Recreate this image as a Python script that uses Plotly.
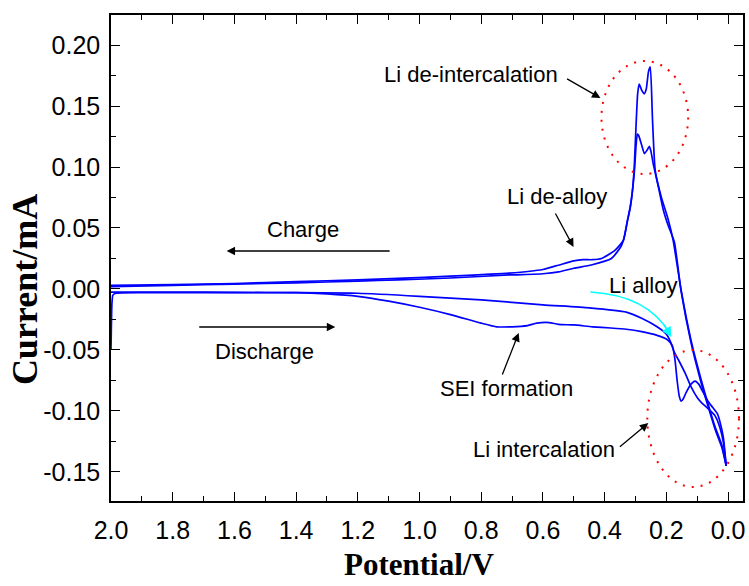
import plotly.graph_objects as go

# ---------------- data ----------------
# Cycle 1 cathodic sweep (discharge, 2.0 V -> 0 V), with SEI shoulder
v_dis1 = [2.0, 1.997, 1.994, 1.985, 1.9, 1.8, 1.6, 1.4, 1.3, 1.2, 1.1, 1.0, 0.9, 0.8,
          0.75, 0.7, 0.65, 0.62, 0.58, 0.55, 0.5, 0.44, 0.38, 0.33, 0.28, 0.23, 0.2,
          0.187, 0.18, 0.172, 0.165, 0.158, 0.152, 0.145, 0.136, 0.12, 0.107, 0.095,
          0.08, 0.065, 0.05, 0.035, 0.025, 0.015, 0.006]
i_dis1 = [-0.05, -0.012, -0.005, -0.0035, -0.003, -0.003, -0.003, -0.003, -0.004, -0.006,
          -0.010, -0.015, -0.021, -0.028, -0.031, -0.031, -0.030, -0.028, -0.0275, -0.029,
          -0.0295, -0.031, -0.032, -0.033, -0.035, -0.038, -0.041, -0.044, -0.047, -0.058,
          -0.075, -0.088, -0.092, -0.090, -0.085, -0.078, -0.0755, -0.078, -0.085, -0.092,
          -0.097, -0.102, -0.110, -0.122, -0.145]

# Cycle 1 anodic sweep (charge, 0 V -> 2.0 V), larger de-intercalation peaks
v_cha1 = [0.006, 0.02, 0.042, 0.065, 0.087, 0.12, 0.152, 0.178, 0.194, 0.216, 0.236,
          0.245, 0.252, 0.258, 0.265, 0.272, 0.28, 0.288, 0.293, 0.298, 0.304, 0.31,
          0.317, 0.326, 0.339, 0.365, 0.388, 0.41, 0.44, 0.47, 0.5, 0.55, 0.6, 0.71,
          0.9, 1.07, 1.2, 1.4, 1.6, 1.8, 2.0]
i_cha1 = [-0.145, -0.128, -0.113, -0.094, -0.0746, -0.042, -0.001, 0.040, 0.057, 0.075,
          0.097, 0.14, 0.182, 0.178, 0.164, 0.160, 0.163, 0.168, 0.160, 0.135, 0.10, 0.08,
          0.067, 0.056, 0.040, 0.032, 0.028, 0.025, 0.024, 0.024, 0.023, 0.0195, 0.016,
          0.013, 0.0105, 0.0087, 0.0075, 0.006, 0.0045, 0.0035, 0.003]

# Cycle 2 cathodic sweep (discharge)
v_dis2 = [2.0, 1.8, 1.6, 1.4, 1.2, 1.0, 0.8, 0.6, 0.45, 0.33, 0.28, 0.23, 0.2, 0.187,
          0.174, 0.161, 0.139, 0.12, 0.1, 0.087, 0.065, 0.042, 0.026, 0.015, 0.006]
i_dis2 = [-0.0025, -0.0025, -0.0028, -0.003, -0.0035, -0.006, -0.009, -0.013, -0.0155,
          -0.019, -0.024, -0.031, -0.037, -0.043, -0.052, -0.058, -0.069, -0.080, -0.089,
          -0.093, -0.098, -0.104, -0.114, -0.126, -0.145]

# Cycle 2 anodic sweep (charge), smaller peaks
v_cha2 = [0.006, 0.02, 0.042, 0.065, 0.087, 0.12, 0.152, 0.174, 0.194, 0.21, 0.226,
          0.242, 0.25, 0.255, 0.262, 0.271, 0.28, 0.29, 0.294, 0.298, 0.304, 0.317,
          0.326, 0.339, 0.349, 0.378, 0.443, 0.5, 0.549, 0.6, 0.71, 0.9, 1.07, 1.2, 1.4,
          1.6, 1.8, 2.0]
i_cha2 = [-0.145, -0.13, -0.115, -0.096, -0.077, -0.044, -0.002, 0.0385, 0.052, 0.065,
          0.084, 0.102, 0.113, 0.117, 0.114, 0.111, 0.118, 0.126, 0.127, 0.118, 0.095,
          0.067, 0.056, 0.040, 0.034, 0.025, 0.0197, 0.017, 0.014, 0.0125, 0.0115, 0.009,
          0.0074, 0.0065, 0.005, 0.004, 0.003, 0.002]

x_ticks = [2.0, 1.8, 1.6, 1.4, 1.2, 1.0, 0.8, 0.6, 0.4, 0.2, 0.0]
x_ticktext = ["2.0", "1.8", "1.6", "1.4", "1.2", "1.0", "0.8", "0.6", "0.4", "0.2", "0.0"]
y_ticks = [0.20, 0.15, 0.10, 0.05, 0.0, -0.05, -0.10, -0.15]
y_ticktext = ["0.20", "0.15", "0.10", "0.05", "0.00", "-0.05", "-0.10", "-0.15"]
x_minor = [1.9, 1.7, 1.5, 1.3, 1.1, 0.9, 0.7, 0.5, 0.3, 0.1]
y_minor = [0.175, 0.125, 0.075, 0.025, -0.025, -0.075, -0.125]

# ---------------- layout geometry ----------------
W, H = 749, 586
ML, MR, MT, MB = 111, 4, 15, 85
X_LEFT, X_RIGHT = 2.0, -0.0485
Y_BOT, Y_TOP = -0.1738, 0.2246


def px2x(px):
    return X_LEFT + (px - ML) / (W - ML - MR) * (X_RIGHT - X_LEFT)


def py2y(py):
    return Y_TOP - (py - MT) / (H - MT - MB) * (Y_TOP - Y_BOT)


BLUE = "#0000ff"
fig = go.Figure()
for vv, ii in [(v_dis1, i_dis1), (v_cha1, i_cha1), (v_dis2, i_dis2), (v_cha2, i_cha2)]:
    fig.add_trace(go.Scatter(x=vv, y=ii, mode="lines",
                             line=dict(color=BLUE, width=1.7, shape="spline", smoothing=0.5),
                             showlegend=False, hoverinfo="skip"))

TICKFONT = dict(family="Liberation Sans, Arial, sans-serif", size=25, color="black")
axis_common = dict(showline=True, linecolor="black", linewidth=1.5, mirror="ticks",
                   ticks="inside", ticklen=9, tickwidth=1.3, tickcolor="black",
                   showgrid=False, zeroline=False, tickfont=TICKFONT, tickmode="array")

fig.update_xaxes(range=[X_LEFT, X_RIGHT], tickvals=x_ticks, ticktext=x_ticktext,
                 minor=dict(tickvals=x_minor, ticks="inside", ticklen=5, tickwidth=1.3,
                            tickcolor="black", showgrid=False),
                 ticklabelstandoff=6, **axis_common)
fig.update_yaxes(range=[Y_BOT, Y_TOP], tickvals=y_ticks, ticktext=y_ticktext,
                 minor=dict(tickvals=y_minor, ticks="inside", ticklen=5, tickwidth=1.3,
                            tickcolor="black", showgrid=False),
                 ticklabelstandoff=4, **axis_common)

ANNFONT = dict(family="Liberation Sans, Arial, sans-serif", size=22, color="black")
YTITLEFONT = dict(family="Liberation Serif, Times New Roman, serif", size=36, color="black")
XTITLEFONT = dict(family="Liberation Serif, Times New Roman, serif", size=31, color="black")

annotations = []
# texts: (text, px, py)
for text, px, py in [("Li de-intercalation", 472, 74), ("Li de-alloy", 558, 196),
                     ("Charge", 304, 229), ("Discharge", 265, 351), ("Li alloy", 645, 285),
                     ("SEI formation", 508, 388), ("Li intercalation", 545, 449)]:
    annotations.append(dict(text=text, x=px2x(px), y=py2y(py), xref="x", yref="y",
                            showarrow=False, font=ANNFONT, xanchor="center", yanchor="middle"))

# black arrows: (tail px, tail py, head px, head py)
for tx, ty, hx, hy in [(567, 78, 602, 98), (556, 212, 575, 247), (392, 251, 227, 251),
                       (198, 327, 336, 327), (503, 376, 520, 333), (620, 448, 650, 423)]:
    annotations.append(dict(text="", x=px2x(hx), y=py2y(hy), ax=px2x(tx), ay=py2y(ty),
                            xref="x", yref="y", axref="x", ayref="y", showarrow=True,
                            arrowhead=2, arrowsize=1.3, arrowwidth=1.3, arrowcolor="black",
                            standoff=0))

# cyan arrow head
annotations.append(dict(text="", x=px2x(673), y=py2y(337), ax=px2x(665), ay=py2y(323),
                        xref="x", yref="y", axref="x", ayref="y", showarrow=True,
                        arrowhead=2, arrowsize=1.3, arrowwidth=1.5, arrowcolor="#00ffff",
                        standoff=0))

# axis titles
annotations.append(dict(text="<b>Current/mA</b>", x=-0.136, y=0.434, xref="paper", yref="paper",
                        showarrow=False, textangle=-90, font=YTITLEFONT,
                        xanchor="center", yanchor="middle"))
annotations.append(dict(text="<b>Potential/V</b>", x=0.488, y=-0.131, xref="paper", yref="paper",
                        showarrow=False, font=XTITLEFONT, xanchor="center", yanchor="middle"))

shapes = []
# red dotted ellipses
for x0, y0, x1, y1 in [(603, 61, 690, 174), (649, 350, 741, 487)]:
    shapes.append(dict(type="circle", xref="x", yref="y", x0=px2x(x0), x1=px2x(x1),
                       y0=py2y(y0), y1=py2y(y1),
                       line=dict(color="red", width=2, dash="2px,7px")))
# cyan curved arrow body
shapes.append(dict(type="path", xref="x", yref="y",
                   path="M {:.4f},{:.5f} Q {:.4f},{:.5f} {:.4f},{:.5f}".format(
                       px2x(592), py2y(292), px2x(649.5), py2y(295.5), px2x(671), py2y(333)),
                   line=dict(color="#00ffff", width=1.5)))

fig.update_layout(width=W, height=H, margin=dict(l=ML, r=MR, t=MT, b=MB),
                  paper_bgcolor="white", plot_bgcolor="white",
                  annotations=annotations, shapes=shapes)

fig.write_html("out.html")
